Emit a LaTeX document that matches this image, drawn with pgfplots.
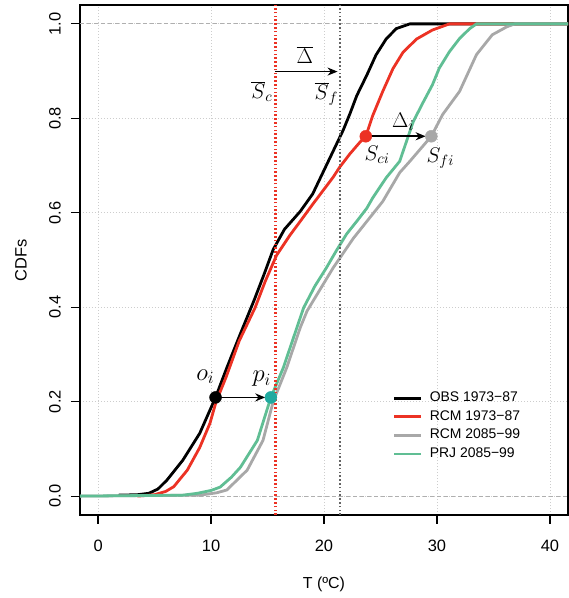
\RequirePackage{fix-cm}
\documentclass[border=0pt]{standalone}
\usepackage{fontspec}
\setmainfont{Liberation Sans}
\usepackage{pgfplots}
\pgfplotsset{compat=1.18}
\usetikzlibrary{arrows.meta}
\definecolor{cRed}{RGB}{236,50,36}
\definecolor{cGreen}{RGB}{96,190,148}
\definecolor{cGray}{RGB}{168,168,168}
\definecolor{cTeal}{RGB}{32,170,160}
\definecolor{cGrid}{RGB}{205,205,205}
\definecolor{cDash}{RGB}{175,175,175}
\definecolor{cVline}{RGB}{100,100,100}
\begin{document}
\begin{tikzpicture}
\begin{axis}[
 scale only axis, width=488bp, height=510bp,
 xmin=-1.6, xmax=41.6, ymin=-0.04, ymax=1.04,
 xtick={0,10,20,30,40}, ytick={0,0.2,0.4,0.6,0.8,1},
 xticklabels={0,10,20,30,40},
 yticklabels={0.0,0.2,0.4,0.6,0.8,1.0},
 xtick pos=bottom, ytick pos=left,
 tick align=outside, major tick length=9bp,
 every tick/.style={black, line width=1.2bp},
 axis line style={line width=1.2bp},
 grid=major, major grid style={cGrid, line width=0.8bp, dash pattern=on 1bp off 2bp},
 ticklabel style={font=\fontsize{16.5}{19}\selectfont},
 xticklabel style={anchor=center, yshift=-21.5bp},
 yticklabel style={xshift=-16bp, rotate=90, anchor=center},
 xlabel={T (ºC)}, ylabel={CDFs},
 xlabel style={at={(axis description cs:0.5,-0.137)}, anchor=center, font=\fontsize{16}{19}\selectfont},
 ylabel style={at={(axis description cs:-0.121,0.5)}, anchor=center, font=\fontsize{16.5}{19}\selectfont},
 legend style={draw=none, fill=none, at={(axis description cs:0.641,0.244)}, anchor=north west,
   inner sep=0pt, row sep=3.6bp, column sep=6bp, font=\fontsize{14}{16}\selectfont,
   nodes={inner sep=1bp, text height=10bp, text depth=3bp}},
 legend cell align=left,
 legend image code/.code={\draw[#1] (0bp,0bp) -- (27bp,0bp);},
]
% dashed reference lines
\addplot[cDash, line width=1.1bp, dash pattern=on 4bp off 3bp, forget plot] coordinates {(-1.6,0) (41.6,0)};
\addplot[cDash, line width=1.1bp, dash pattern=on 4bp off 3bp, forget plot] coordinates {(-1.6,1) (41.6,1)};

% OBS 1973-87
\addplot[black, line width=2.8bp] coordinates {
(1.8,0.002) (3.5,0.003) (4.5,0.006) (5.3,0.015) (6.1,0.034) (7.5,0.076) (9.0,0.133)
(10.4,0.209) (11.4,0.272) (12.6,0.344) (13.8,0.414) (14.7,0.47) (15.5,0.522) (16.5,0.565)
(17.9,0.603) (19.0,0.64) (19.8,0.68) (20.8,0.73) (21.7,0.775) (22.3,0.81) (22.9,0.848)
(23.8,0.892) (24.6,0.934) (25.5,0.968) (26.4,0.99) (27.6,1.0) (41.6,1.0)};
\addlegendentry{OBS 1973−87}

% RCM 1973-87
\addplot[cRed, line width=2.8bp] coordinates {
(3.5,0.0) (5.0,0.003) (6.0,0.01) (6.7,0.02) (7.9,0.055) (9.0,0.103) (9.9,0.154) (10.45,0.2)
(11.3,0.25) (12.5,0.329) (13.9,0.399) (14.8,0.455) (15.8,0.51) (17.0,0.553) (17.9,0.582)
(19.0,0.618) (19.6,0.637) (20.8,0.675) (21.4,0.697) (22.3,0.725) (23.2,0.75) (23.7,0.762)
(24.3,0.805) (25.2,0.857) (26.1,0.905) (27.0,0.94) (28.2,0.968) (29.6,0.987) (31.1,1.0) (41.6,1.0)};
\addlegendentry{RCM 1973−87}

% RCM 2085-99
\addplot[cGray, line width=2.8bp] coordinates {
(-1.6,0) (9.0,0.002) (10.5,0.007) (11.4,0.013) (13.2,0.055) (14.6,0.118) (15.5,0.2)
(16.7,0.272) (17.9,0.357) (18.5,0.392) (20.8,0.483) (22.6,0.546) (24.3,0.597) (25.2,0.624)
(26.7,0.685) (27.6,0.709) (29.5,0.762) (30.5,0.808) (32.0,0.857) (33.5,0.935) (34.9,0.977)
(36.2,0.994) (36.9,1.0) (41.6,1.0)};
\addlegendentry{RCM 2085−99}

% PRJ 2085-99
\addplot[cGreen, line width=2.8bp] coordinates {
(-1.6,0) (7.5,0.002) (8.8,0.006) (10.0,0.012) (10.8,0.019) (11.8,0.04) (12.6,0.061)
(14.1,0.118) (15.3,0.209) (16.4,0.272) (17.9,0.378) (18.2,0.399) (19.2,0.445) (20.2,0.483)
(21.1,0.52) (22.0,0.555) (23.0,0.585) (23.8,0.61) (24.3,0.631) (25.5,0.674) (26.7,0.709)
(27.3,0.751) (27.9,0.793) (28.8,0.835) (29.6,0.871) (30.2,0.906) (31.1,0.941) (32.0,0.969)
(32.9,0.99) (33.5,1.0) (41.6,1.0)};
\addlegendentry{PRJ 2085−99}

% vertical mean lines
\addplot[cRed, line width=2.4bp, dash pattern=on 1.6bp off 2.2bp, forget plot] coordinates {(15.7,-0.04) (15.7,1.04)};
\addplot[cVline, line width=2bp, dash pattern=on 1.6bp off 2.2bp, forget plot] coordinates {(21.4,-0.04) (21.4,1.04)};

% arrows
\draw[black, line width=1.7bp, -{Stealth[length=10bp, width=8bp]}] (axis cs:15.7,0.899) -- (axis cs:21.2,0.899);
\draw[black, line width=1.7bp, -{Stealth[length=10bp, width=8bp]}] (axis cs:24.0,0.762) -- (axis cs:29.0,0.762);
\draw[black, line width=1.7bp, -{Stealth[length=10bp, width=8bp]}] (axis cs:10.6,0.209) -- (axis cs:14.8,0.209);

% points
\addplot[only marks, mark=*, mark size=6bp, black, forget plot] coordinates {(10.4,0.209)};
\addplot[only marks, mark=*, mark size=6bp, cTeal, forget plot] coordinates {(15.3,0.209)};
\addplot[only marks, mark=*, mark size=6bp, cRed, forget plot] coordinates {(23.7,0.762)};
\addplot[only marks, mark=*, mark size=6bp, cGray, forget plot] coordinates {(29.5,0.762)};

% labels
\node[scale=1.25, font=\fontsize{17}{20}\selectfont] at (axis cs:14.5,0.857) {$\overline{S}_c$};
\node[scale=1.25, font=\fontsize{17}{20}\selectfont] at (axis cs:20.2,0.852) {$\overline{S}_f$};
\node[scale=1.25, font=\fontsize{17}{20}\selectfont] at (axis cs:18.3,0.935) {$\overline{\Delta}$};
\node[scale=1.25, font=\fontsize{17}{20}\selectfont] at (axis cs:27.0,0.792) {$\Delta_i$};
\node[scale=1.25, font=\fontsize{17}{20}\selectfont] at (axis cs:24.7,0.722) {$S_{ci}$};
\node[scale=1.25, font=\fontsize{17}{20}\selectfont] at (axis cs:30.3,0.715) {$S_{fi}$};
\node[scale=1.3, font=\fontsize{19}{23}\selectfont] at (axis cs:9.5,0.253) {$o_i$};
\node[scale=1.3, font=\fontsize{19}{23}\selectfont] at (axis cs:14.5,0.249) {$p_i$};
\end{axis}
\path ([shift={(-80bp,-83bp)}]current axis.south west) ([shift={(1bp,5bp)}]current axis.north east);
\end{tikzpicture}
\end{document}
